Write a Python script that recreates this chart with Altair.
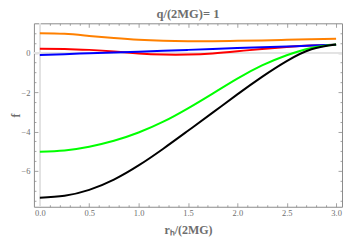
import altair as alt
import pandas as pd

r = [0.0, 0.25, 0.5, 0.75, 1.0, 1.25, 1.5, 1.75, 2.0, 2.25, 2.5, 2.75, 3.0]
orange = [1.00, 0.97, 0.86, 0.75, 0.66, 0.61, 0.59, 0.59, 0.61, 0.63, 0.66, 0.69, 0.72]
red = [0.21, 0.20, 0.15, 0.07, -0.03, -0.09, -0.09, -0.03, 0.08, 0.20, 0.30, 0.37, 0.41]
blue = [-0.11, -0.07, -0.02, 0.02, 0.06, 0.11, 0.15, 0.19, 0.24, 0.28, 0.32, 0.37, 0.41]
green = [-5.02, -4.96, -4.77, -4.47, -4.05, -3.50, -2.82, -2.07, -1.31, -0.64, -0.12, 0.25, 0.42]
black = [-7.36, -7.26, -6.96, -6.44, -5.72, -4.87, -3.96, -3.04, -2.11, -1.22, -0.42, 0.18, 0.42]

series_names = ["orange", "red", "blue", "green", "black"]
series_colors = ["#FF8000", "#FF0000", "#0000FF", "#00FF00", "#000000"]
series_values = [orange, red, blue, green, black]

x_major = [0.0, 0.5, 1.0, 1.5, 2.0, 2.5, 3.0]
x_minor = [round(i * 0.1, 1) for i in range(0, 31) if i % 5 != 0]
x_all = [round(i * 0.1, 1) for i in range(0, 31)]
y_major = [-6, -4, -2, 0]
y_minor = [-7.5, -7.0, -6.5, -5.5, -5.0, -4.5, -3.5, -3.0, -2.5, -1.5, -1.0, -0.5, 0.5, 1.0]
y_all = sorted(y_major + y_minor)

rows = []
for name, vals in zip(series_names, series_values):
    for xv, yv in zip(r, vals):
        rows.append({"r": xv, "f": yv, "s": name})
df = pd.DataFrame(rows)

FONT = "Liberation Serif"
GRAY = "#8c8c8c"
LGRAY = "#6e6e6e"

xscale = alt.Scale(domain=[-0.06, 3.06], nice=False, zero=False)
yscale = alt.Scale(domain=[-7.82, 1.5], nice=False, zero=False)

minor_x = "abs(datum.value*2 - round(datum.value*2)) > 0.01"
minor_y = "abs(datum.value/2 - round(datum.value/2)) > 0.01"


def axis(orient, values, size, labels=False, fmt=None, title=None, dash_test=None, pad=2):
    kw = dict(
        orient=orient,
        values=values,
        domain=False,
        grid=False,
        offset=-size,
        tickSize=size,
        tickColor=GRAY,
        tickWidth=0.8,
        labels=labels,
        title=title,
    )
    if dash_test is not None:
        kw["tickSize"] = 4
        kw["offset"] = -4
        kw["tickDash"] = {"condition": {"test": dash_test, "value": [0, 2, 2, 0]}, "value": [4, 0]}
    if labels:
        kw.update(
            labelFont=FONT,
            labelFontSize=8.5,
            labelColor=LGRAY,
            labelPadding=pad,
            labelExpr="replace(datum.label, '-', '\u2212')",
        )
        if fmt:
            kw["format"] = fmt
    if title is not None:
        kw.update(titleFont=FONT, titleFontSize=12, titleFontWeight="bold", titleColor=LGRAY)
    return alt.Axis(**kw)


base = alt.Chart(df)

lines = base.mark_line(strokeWidth=2, interpolate="natural").encode(
    x=alt.X("r:Q", scale=xscale,
            axis=axis("bottom", x_major, 4, labels=True, fmt=".1f", title="r\u2095/(2MG)", pad=2)),
    y=alt.Y("f:Q", scale=yscale,
            axis=axis("left", y_major, 4, labels=True, fmt="d", title="f", pad=4)),
    color=alt.Color("s:N", scale=alt.Scale(domain=series_names, range=series_colors), legend=None),
    order=alt.Order("r:Q"),
)

mirror = base.mark_line(opacity=0).encode(
    x=alt.X("r:Q", scale=xscale, axis=axis("top", x_all, 4, dash_test=minor_x)),
    y=alt.Y("f:Q", scale=yscale, axis=axis("right", y_all, 4, dash_test=minor_y)),
    detail="s:N",
)

hzero = alt.Chart(df).mark_rule(color="#e3e3e3", strokeWidth=1).encode(
    y=alt.datum(0, scale=yscale, axis=axis("left", y_minor, 2))
)
vzero = alt.Chart(df).mark_rule(color="#e3e3e3", strokeWidth=1).encode(
    x=alt.datum(0, scale=xscale, axis=axis("bottom", x_minor, 2))
)

chart = alt.layer(hzero, vzero, mirror, lines).resolve_axis(
    x="independent", y="independent"
).resolve_scale(x="shared", y="shared").properties(
    width=309,
    height=184,
    autosize=alt.AutoSizeParams(type="none"),
    padding={"left": 26, "top": 15, "right": 4, "bottom": 36},
    title=alt.TitleParams(
        text="q/(2MG)= 1",
        font=FONT,
        fontSize=12.5,
        fontWeight="bold",
        color=LGRAY,
        anchor="middle",
        offset=2,
    ),
).configure_view(stroke=GRAY, strokeWidth=1).configure_axisLeft(
    titleAngle=-90, titleX=-22, titleY=92, titleAlign="center", titleBaseline="middle"
).configure_axisBottom(titleY=31, titleBaseline="alphabetic")

chart.save("out.html", embed_options={"renderer": "svg", "actions": False})
